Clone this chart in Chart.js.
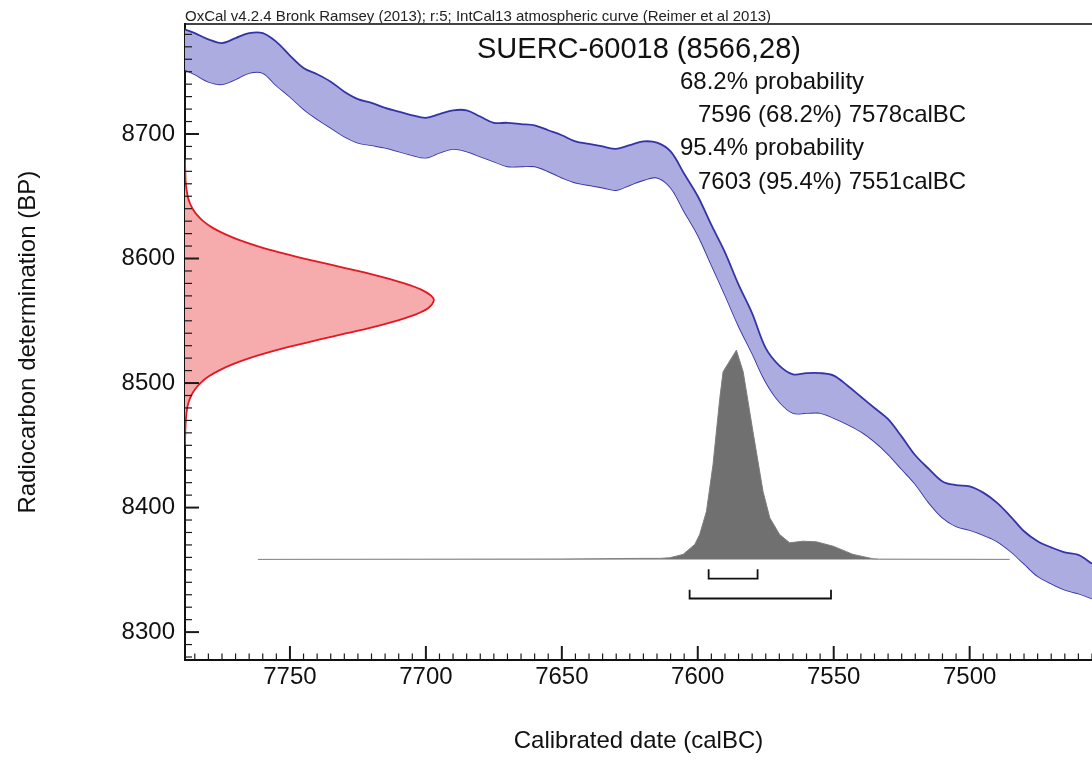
<!DOCTYPE html>
<html><head><meta charset="utf-8">
<script src="https://cdn.jsdelivr.net/npm/chart.js@4.4.0/dist/chart.umd.min.js"></script>
<style>html,body{margin:0;padding:0;background:#fff;overflow:hidden}</style>
</head><body>
<canvas id="c" width="1092" height="760"></canvas>
<script>
const FONT = "'Liberation Sans', Arial, Helvetica, sans-serif";

// ---- texts ----
const headerText = 'OxCal v4.2.4 Bronk Ramsey (2013); r:5; IntCal13 atmospheric curve (Reimer et al 2013)';
const sampleLabel = 'SUERC-60018 (8566,28)';
const rangeText = ['68.2% probability', '7596 (68.2%) 7578calBC', '95.4% probability', '7603 (95.4%) 7551calBC'];
const xTitle = 'Calibrated date (calBC)';
const yTitle = 'Radiocarbon determination (BP)';

// ---- tick labels ----
const xTickValues = [7750, 7700, 7650, 7600, 7550, 7500];
const yTickValues = [8700, 8600, 8500, 8400, 8300];

// ---- IntCal13 calibration curve (1 sigma envelope) ----
const curveCal = [7790,7785,7780,7775,7770,7765,7760,7755,7750,7745,
  7740,7735,7730,7725,7720,7715,7710,7705,7700,7695,
  7690,7685,7680,7675,7670,7665,7660,7655,7650,7645,
  7640,7635,7630,7625,7620,7615,7610,7605,7600,7595,
  7590,7585,7580,7575,7570,7565,7560,7555,7550,7545,
  7540,7535,7530,7525,7520,7515,7510,7505,7500,7495,
  7490,7485,7480,7475,7470,7465,7460,7455];
const curveUpper = [8785,8781,8776,8773,8777,8781,8781,8774,8763,8753,
  8748,8742,8734,8728,8725,8721,8718,8715,8713,8716,
  8719,8719,8714,8709,8709,8708,8707,8703,8699,8694,
  8692,8690,8688,8691,8694,8693,8686,8668,8650,8627,
  8605,8579,8556,8528,8514,8507,8508,8508,8506,8498,
  8489,8480,8471,8457,8442,8431,8421,8418,8417,8412,
  8404,8393,8381,8373,8368,8364,8362,8355];
const curveLower = [8753,8748,8742,8740,8744,8749,8749,8739,8730,8720,
  8712,8705,8698,8693,8691,8689,8686,8683,8681,8685,
  8688,8686,8682,8678,8674,8674,8674,8670,8665,8661,
  8659,8657,8655,8659,8663,8665,8657,8638,8619,8595,
  8571,8546,8524,8501,8485,8476,8476,8476,8472,8467,
  8461,8453,8443,8431,8419,8404,8392,8385,8382,8378,
  8373,8365,8355,8345,8339,8334,8331,8327];

// ---- radiocarbon measurement (red, drawn against the BP axis) ----
const c14BP = [8680,8670,8660,8650,8645,8640,8635,8630,8625,8620,8615,8610,8605,8600,
  8595,8590,8585,8580,8575,8570,8566,8560,8555,8550,8545,8540,8535,8530,8525,8520,
  8515,8510,8505,8500,8495,8490,8485,8480,8470,8460,8450];
const c14Cal = [7788.6,7788.5,7788.3,7787.6,7786.9,7785.8,7784.2,7781.9,7778.7,7774.3,7768.8,7762.0,7753.9,7744.8,
  7735.0,7725.1,7715.9,7707.9,7701.7,7698.0,7697.1,7699.2,7703.9,7710.9,7719.5,7729.1,7739.0,7748.5,7757.3,7764.9,
  7771.2,7776.2,7780.1,7782.9,7784.9,7786.3,7787.2,7787.8,7788.3,7788.5,7788.6];

// ---- calibrated probability distribution (grey) ----
const postCal = [7761.8,7650.7,7636,7621.3,7614,7610.3,7605.4,7601.1,7599.3,7596.8,
  7594.4,7591.9,7590.7,7585.8,7583.3,7579.7,7576.0,7573.5,7569.9,7566.2,
  7561.3,7556.4,7550.2,7542.9,7535.6,7533.1,7485.3];
const postHeight = [0,0.3,0.5,0.8,0.8,1.3,4,12,20,38.6,
  76,129.3,150.6,168,150.6,102.6,54.6,33.3,20,13.3,
  14.6,14.1,10.6,4,0.5,0.2,0];
const postBaseline = 8358.4;

// ---- ranges ----
const range68 = [7596, 7578];
const range95 = [7603, 7551];

// layout constants (BP levels of the range brackets)
const br68 = {top: 8350.5, bar: 8343};
const br95 = {top: 8334, bar: 8327};

const pts = (xs, ys) => xs.map((v, i) => ({x: v, y: ys[i]}));
const bracket = (r, lv) => [{x: r[0], y: lv.top}, {x: r[0], y: lv.bar}, {x: r[1], y: lv.bar}, {x: r[1], y: lv.top}];

const innerTicks = {
  id: 'innerTicks',
  afterDatasetsDraw(chart) {
    const {ctx, chartArea: {left, right, top, bottom}, scales: {x, y}} = chart;
    ctx.save();
    ctx.strokeStyle = '#1a1a1a';
    const lo = Math.min(x.min, x.max), hi = Math.max(x.min, x.max);
    for (let v = Math.ceil(lo / 5) * 5; v <= hi; v += 5) {
      const p = x.getPixelForValue(v);
      const major = v % 50 === 0;
      ctx.lineWidth = major ? 2 : 1.2;
      ctx.beginPath(); ctx.moveTo(p, bottom); ctx.lineTo(p, bottom - (major ? 14 : 6.5)); ctx.stroke();
    }
    for (let v = Math.ceil(y.min / 10) * 10; v <= y.max; v += 10) {
      const p = y.getPixelForValue(v);
      const major = v % 100 === 0;
      ctx.lineWidth = major ? 2 : 1.2;
      ctx.beginPath(); ctx.moveTo(left, p); ctx.lineTo(left + (major ? 14 : 7), p); ctx.stroke();
    }
    ctx.restore();
  }
};

const texts = {
  id: 'texts',
  afterDraw(chart) {
    const ctx = chart.ctx;
    ctx.save();
    ctx.fillStyle = '#111';
    ctx.textBaseline = 'alphabetic';
    ctx.textAlign = 'left';
    ctx.font = `29px ${FONT}`;
    ctx.fillText(sampleLabel, 477, 58);
    ctx.font = `24px ${FONT}`;
    rangeText.forEach((t, i) => ctx.fillText(t, i % 2 === 0 ? 680 : 698, 88.7 + i * 33.3));
    ctx.restore();
  }
};

const blueLine = 'rgb(52,52,168)';
const blueFill = 'rgb(172,172,224)';
const plain = v => String(v);

new Chart(document.getElementById('c'), {
  type: 'line',
  data: {
    datasets: [
      {label: 'r95', data: bracket(range95, br95), borderColor: '#111', borderWidth: 1.8, pointRadius: 0, tension: 0, fill: false, order: 0},
      {label: 'r68', data: bracket(range68, br68), borderColor: '#111', borderWidth: 1.8, pointRadius: 0, tension: 0, fill: false, order: 0},
      {label: 'upper', data: pts(curveCal, curveUpper), borderColor: blueLine, borderWidth: 1.8, backgroundColor: blueFill, fill: '+1', pointRadius: 0, tension: 0.35, order: 2},
      {label: 'lower', data: pts(curveCal, curveLower), borderColor: blueLine, borderWidth: 1.8, fill: false, pointRadius: 0, tension: 0.35, order: 2},
      {label: 'c14', data: pts(c14Cal, c14BP), borderColor: 'rgb(225,25,35)', borderWidth: 1.8, backgroundColor: 'rgb(246,172,172)', fill: 'shape', pointRadius: 0, tension: 0.3, order: 3},
      {label: 'post', data: pts(postCal, postHeight.map(h => postBaseline + h)), borderColor: 'rgb(125,125,125)', borderWidth: 1, backgroundColor: 'rgb(112,112,112)', fill: {value: postBaseline}, pointRadius: 0, tension: 0, order: 1}
    ]
  },
  options: {
    responsive: false,
    animation: false,
    events: [],
    layout: {padding: 0},
    plugins: {legend: {display: false}, tooltip: {enabled: false}, title: {display: false}},
    scales: {
      x: {
        type: 'linear', position: 'bottom', reverse: true, min: 7455, max: 7788.6,
        afterFit(s) { s.height = 100; },
        afterBuildTicks(s) { s.ticks = xTickValues.map(v => ({value: v})); },
        grid: {display: false, drawTicks: false},
        border: {display: true, color: '#111', width: 2},
        ticks: {color: '#111', font: {family: FONT, size: 24}, padding: 3, maxRotation: 0, autoSkip: false, callback: plain},
        title: {display: true, text: xTitle, color: '#111', font: {family: FONT, size: 24}, padding: {top: 0, bottom: 4}}
      },
      x2: {
        type: 'linear', axis: 'x', position: 'top', reverse: false, min: 7455, max: 7788.6,
        afterFit(s) { s.height = 22; },
        grid: {display: false, drawTicks: false},
        border: {display: true, color: '#444', width: 2},
        ticks: {display: false},
        title: {display: true, text: headerText, align: 'start', color: '#222', font: {family: FONT, size: 15}, padding: {top: 5, bottom: 0}}
      },
      y: {
        type: 'linear', position: 'left', min: 8277.6, max: 8788,
        afterFit(s) { s.width = 185; },
        afterBuildTicks(s) { s.ticks = yTickValues.map(v => ({value: v})); },
        grid: {display: false, drawTicks: false},
        border: {display: true, color: '#111', width: 2},
        ticks: {color: '#111', font: {family: FONT, size: 24}, padding: 10, callback: plain},
        title: {display: true, text: yTitle, color: '#111', font: {family: FONT, size: 24}, padding: {top: 14, bottom: 0}}
      }
    }
  },
  plugins: [innerTicks, texts]
});
</script>
</body></html>
